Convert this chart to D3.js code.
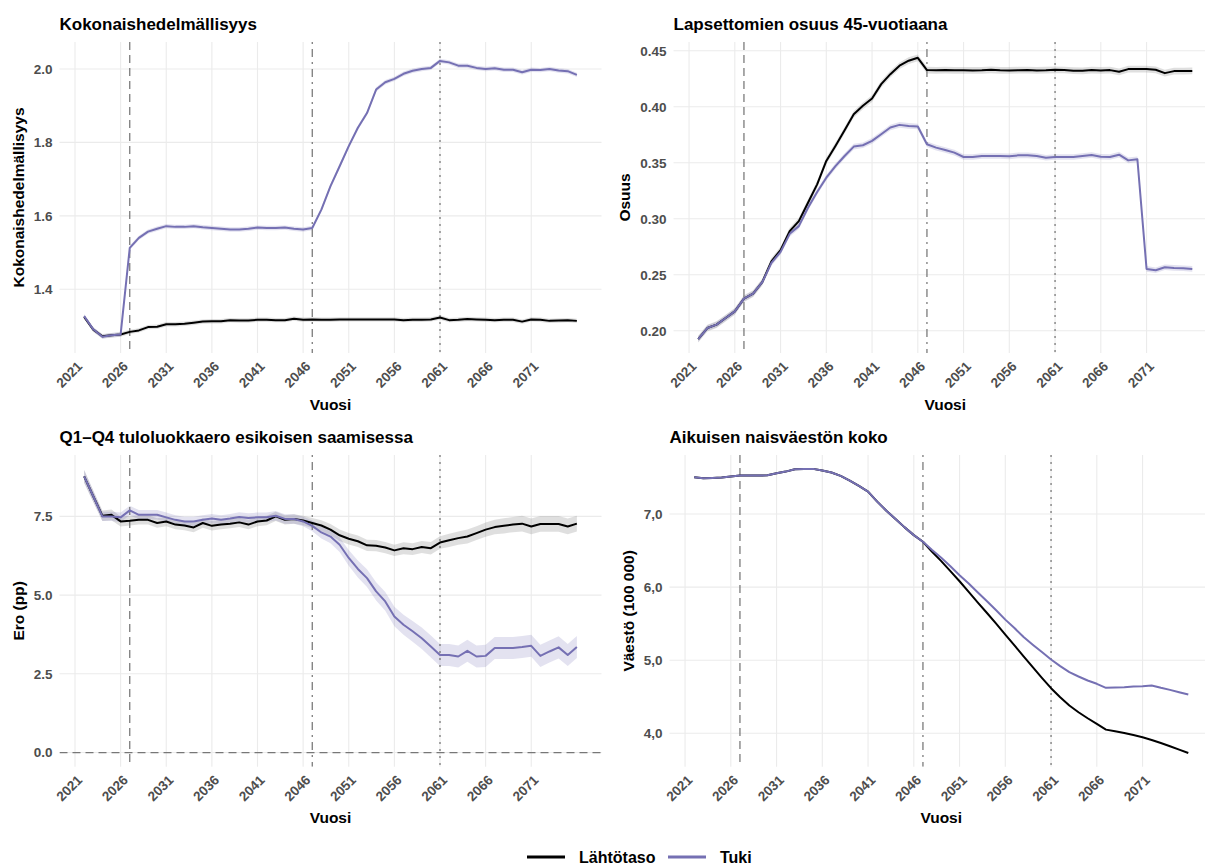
<!DOCTYPE html>
<html><head><meta charset="utf-8">
<script src="https://cdn.jsdelivr.net/npm/d3@7"></script>
<style>
body{margin:0;background:#fff}
svg{display:block;font-family:"Liberation Sans",Arial,Helvetica,sans-serif}
</style>
</head><body>
<svg id="chart" width="1205" height="866"></svg>
<script>
// ---------------- DATA ----------------
const years = [2022,2023,2024,2025,2026,2027,2028,2029,2030,2031,
  2032,2033,2034,2035,2036,2037,2038,2039,2040,2041,
  2042,2043,2044,2045,2046,2047,2048,2049,2050,2051,
  2052,2053,2054,2055,2056,2057,2058,2059,2060,2061,
  2062,2063,2064,2065,2066,2067,2068,2069,2070,2071,
  2072,2073,2074,2075,2076];
const xTickValues = [2021,2026,2031,2036,2041,2046,2051,2056,2061,2066,2071];
const seriesNames = ["Lähtötaso","Tuki"];
const refYears = [2027,2047,2061];
const refTypes = ["dashed","dotdash","dotted"];

// Panel 1: Kokonaishedelmällisyys
const tfrBase = [1.325,1.290,1.272,1.275,1.277,1.284,1.288,1.297,1.298,1.305,
  1.305,1.306,1.309,1.312,1.313,1.313,1.316,1.315,1.315,1.317,
  1.317,1.316,1.316,1.320,1.317,1.318,1.317,1.317,1.318,1.318,
  1.318,1.318,1.318,1.318,1.318,1.316,1.317,1.317,1.318,1.323,
  1.316,1.317,1.319,1.318,1.317,1.316,1.317,1.317,1.312,1.318,
  1.317,1.314,1.315,1.316,1.314];
const tfrTuki = [1.327,1.291,1.271,1.275,1.277,1.513,1.540,1.557,1.565,1.572,
  1.570,1.570,1.572,1.569,1.567,1.565,1.563,1.563,1.565,1.568,
  1.567,1.567,1.568,1.565,1.563,1.567,1.617,1.681,1.735,1.790,
  1.840,1.880,1.944,1.964,1.973,1.987,1.995,2.000,2.003,2.022,
  2.018,2.009,2.009,2.003,2.000,2.002,1.998,1.998,1.991,1.998,
  1.997,2.000,1.996,1.994,1.984];
const tfrBaseCI = 0.006;
const tfrTukiCI = 0.006;
const tfrTicks = [1.4,1.6,1.8,2.0];
const tfrTickLabels = ["1.4","1.6","1.8","2.0"];

// Panel 2: Lapsettomien osuus 45-vuotiaana
const childlessBase = [0.1925,0.2024,0.2054,0.2113,0.2173,0.2286,0.2331,0.2433,0.2620,0.2719,
  0.2889,0.2979,0.3143,0.3307,0.3516,0.3650,0.3790,0.3933,0.4008,0.4073,
  0.4202,0.4291,0.4366,0.4411,0.4437,0.4327,0.4325,0.4327,0.4325,0.4325,
  0.4324,0.4325,0.4330,0.4325,0.4324,0.4326,0.4327,0.4324,0.4326,0.4330,
  0.4328,0.4322,0.4321,0.4327,0.4324,0.4327,0.4312,0.4336,0.4336,0.4336,
  0.4330,0.4300,0.4318,0.4318,0.4320];
const childlessTuki = [0.1925,0.2024,0.2054,0.2113,0.2173,0.2286,0.2331,0.2433,0.2606,0.2704,
  0.2865,0.2934,0.3098,0.3238,0.3366,0.3470,0.3560,0.3644,0.3656,0.3695,
  0.3754,0.3814,0.3838,0.3829,0.3823,0.3665,0.3635,0.3614,0.3590,0.3551,
  0.3551,0.3560,0.3560,0.3560,0.3557,0.3566,0.3566,0.3560,0.3545,0.3551,
  0.3551,0.3551,0.3560,0.3569,0.3554,0.3551,0.3572,0.3521,0.3530,0.2552,
  0.2540,0.2567,0.2561,0.2558,0.2552];
const childlessBaseCI = 0.003;
const childlessTukiCI = 0.0025;
const childlessTicks = [0.20,0.25,0.30,0.35,0.40,0.45];
const childlessTickLabels = ["0.20","0.25","0.30","0.35","0.40","0.45"];

// Panel 3: Q1–Q4 tuloluokkaero esikoisen saamisessa
const gapBase = [8.77,8.14,7.52,7.55,7.34,7.36,7.39,7.39,7.29,7.34,
  7.24,7.21,7.15,7.29,7.20,7.24,7.27,7.31,7.24,7.34,
  7.37,7.50,7.39,7.42,7.37,7.29,7.21,7.08,6.90,6.79,
  6.71,6.58,6.57,6.51,6.42,6.49,6.46,6.53,6.49,6.67,
  6.74,6.81,6.86,6.97,7.08,7.16,7.20,7.24,7.27,7.18,
  7.26,7.26,7.26,7.18,7.27];
const gapTuki = [8.77,8.14,7.50,7.50,7.47,7.69,7.55,7.55,7.55,7.47,
  7.39,7.34,7.34,7.39,7.43,7.39,7.43,7.48,7.45,7.47,
  7.47,7.52,7.42,7.42,7.34,7.20,6.99,6.86,6.60,6.18,
  5.83,5.54,5.12,4.80,4.32,4.06,3.85,3.63,3.37,3.10,
  3.10,3.05,3.23,3.05,3.07,3.32,3.32,3.32,3.35,3.39,
  3.07,3.21,3.34,3.10,3.35];
const gapBaseCI = [0.20,0.18,0.17,0.17,0.16,0.15,0.15,0.15,0.15,0.15,
  0.15,0.15,0.15,0.15,0.15,0.15,0.15,0.15,0.15,0.15,
  0.15,0.15,0.15,0.15,0.15,0.16,0.17,0.18,0.18,0.18,
  0.18,0.18,0.18,0.18,0.18,0.19,0.19,0.19,0.20,0.20,
  0.21,0.21,0.22,0.22,0.23,0.23,0.24,0.24,0.25,0.25,
  0.25,0.25,0.25,0.25,0.25];
const gapTukiCI = [0.20,0.18,0.15,0.15,0.15,0.15,0.15,0.15,0.15,0.15,
  0.15,0.15,0.15,0.15,0.15,0.15,0.15,0.15,0.15,0.15,
  0.15,0.15,0.15,0.15,0.15,0.17,0.19,0.21,0.23,0.25,
  0.27,0.28,0.29,0.30,0.31,0.32,0.33,0.34,0.35,0.35,
  0.35,0.35,0.35,0.35,0.35,0.35,0.35,0.35,0.35,0.35,
  0.35,0.35,0.35,0.35,0.35];
const gapTicks = [0.0,2.5,5.0,7.5];
const gapTickLabels = ["0.0","2.5","5.0","7.5"];

// Panel 4: Aikuisen naisväestön koko (100 000)
const popBase = [7.503,7.489,7.494,7.498,7.512,7.525,7.525,7.525,7.530,7.557,
  7.580,7.612,7.617,7.617,7.594,7.567,7.521,7.457,7.384,7.306,
  7.169,7.045,6.930,6.817,6.711,6.620,6.483,6.355,6.218,6.080,
  5.934,5.788,5.646,5.500,5.349,5.203,5.052,4.905,4.759,4.617,
  4.494,4.380,4.288,4.206,4.128,4.050,4.027,4.005,3.977,3.945,
  3.909,3.867,3.822,3.776,3.730];
const popTuki = [7.503,7.489,7.494,7.498,7.512,7.525,7.525,7.525,7.530,7.557,
  7.580,7.612,7.617,7.617,7.594,7.567,7.521,7.457,7.384,7.306,
  7.169,7.045,6.930,6.817,6.711,6.620,6.506,6.400,6.286,6.163,
  6.048,5.925,5.806,5.683,5.555,5.440,5.317,5.212,5.111,5.010,
  4.919,4.837,4.777,4.722,4.677,4.622,4.626,4.631,4.640,4.645,
  4.654,4.622,4.594,4.562,4.530];
const popTicks = [4,5,6,7];
const popTickLabels = ["4,0","5,0","6,0","7,0"];

// ---------------- STYLE / LAYOUT ----------------
const colors = {base:"#000000", tuki:"#7570b3"};
const ribbonFill = {base:"#7f7f7f", tuki:"#7570b3"};
const dashes = {dashed:"8,5", dotdash:"2,5,8,5", dotted:"2,5"};

const svg = d3.select("#chart");

const panels = [
  {title:"Kokonaishedelmällisyys", ylab:"Kokonaishedelmällisyys",
   left:59.5, right:601.5, top:42, bottom:353, yDomain:[1.2265,2.0735],
   base:tfrBase, tuki:tfrTuki, baseCI:years.map(()=>tfrBaseCI), tukiCI:years.map(()=>tfrTukiCI),
   ticks:tfrTicks, tickLabels:tfrTickLabels, ylabX:18, titleY:30, xlabY:410, zero:false},
  {title:"Lapsettomien osuus 45-vuotiaana", ylab:"Osuus",
   left:673.5, right:1217, top:42, bottom:353, yDomain:[0.1801,0.4578],
   base:childlessBase, tuki:childlessTuki, baseCI:years.map(()=>childlessBaseCI), tukiCI:years.map(()=>childlessTukiCI),
   ticks:childlessTicks, tickLabels:childlessTickLabels, ylabX:624, titleY:30, xlabY:410, zero:false},
  {title:"Q1–Q4 tuloluokkaero esikoisen saamisessa", ylab:"Ero (pp)",
   left:59.5, right:601.5, top:455, bottom:766.7, yDomain:[-0.45,9.45],
   base:gapBase, tuki:gapTuki, baseCI:gapBaseCI, tukiCI:gapTukiCI,
   ticks:gapTicks, tickLabels:gapTickLabels, ylabX:18, titleY:443, xlabY:823, zero:true},
  {title:"Aikuisen naisväestön koko", ylab:"Väestö (100 000)",
   left:669.5, right:1213, top:455, bottom:766.7, yDomain:[3.543,7.807],
   base:popBase, tuki:popTuki, baseCI:null, tukiCI:null,
   ticks:popTicks, tickLabels:popTickLabels, ylabX:628, titleY:443, xlabY:823, zero:false}
];

panels.forEach((p,pi)=>{
  const x = d3.scaleLinear().domain([years[0]-2.7, years[years.length-1]+2.7]).range([p.left,p.right]);
  const y = d3.scaleLinear().domain(p.yDomain).range([p.bottom,p.top]);
  const g = svg.append("g");
  const clipId = "clip"+pi;
  g.append("clipPath").attr("id",clipId).append("rect")
    .attr("x",p.left).attr("y",p.top).attr("width",p.right-p.left).attr("height",p.bottom-p.top);

  // grid
  const grid = g.append("g").attr("stroke","#ebebeb").attr("stroke-width",1.1);
  grid.selectAll("line.gx").data(xTickValues).join("line")
    .attr("x1",d=>x(d)).attr("x2",d=>x(d)).attr("y1",p.top).attr("y2",p.bottom);
  grid.selectAll("line.gy").data(p.ticks).join("line")
    .attr("x1",p.left).attr("x2",p.right).attr("y1",d=>y(d)).attr("y2",d=>y(d));

  const plot = g.append("g").attr("clip-path",`url(#${clipId})`);

  const rows = years.map((yr,i)=>({yr, b:p.base[i], t:p.tuki[i],
      bci: p.baseCI ? p.baseCI[i] : 0, tci: p.tukiCI ? p.tukiCI[i] : 0}));
  if (p.baseCI) {
    plot.append("path").datum(rows)
      .attr("fill",ribbonFill.base).attr("fill-opacity",0.25)
      .attr("d", d3.area().x(d=>x(d.yr)).y0(d=>y(d.b-d.bci)).y1(d=>y(d.b+d.bci)));
    plot.append("path").datum(rows)
      .attr("fill",ribbonFill.tuki).attr("fill-opacity",0.2)
      .attr("d", d3.area().x(d=>x(d.yr)).y0(d=>y(d.t-d.tci)).y1(d=>y(d.t+d.tci)));
  }

  if (p.zero) {
    plot.append("line").attr("x1",p.left).attr("x2",p.right).attr("y1",y(0)).attr("y2",y(0))
      .attr("stroke","#777").attr("stroke-width",1.2).attr("stroke-dasharray",dashes.dashed);
  }

  plot.selectAll("line.ref").data(refYears).join("line")
    .attr("x1",d=>x(d)).attr("x2",d=>x(d)).attr("y1",p.top).attr("y2",p.bottom)
    .attr("stroke","#707070").attr("stroke-width",1.2)
    .attr("stroke-dasharray",(d,i)=>dashes[refTypes[i]]);

  const line = key => d3.line().x(d=>x(d.yr)).y(d=>y(d[key]));
  plot.append("path").datum(rows).attr("fill","none").attr("stroke",colors.base)
    .attr("stroke-width",2).attr("stroke-linejoin","round").attr("d",line("b"));
  plot.append("path").datum(rows).attr("fill","none").attr("stroke",colors.tuki)
    .attr("stroke-width",2).attr("stroke-linejoin","round").attr("d",line("t"));

  g.selectAll("text.yt").data(p.ticks).join("text")
    .attr("x",p.left-7).attr("y",d=>y(d)).attr("dy","0.36em")
    .attr("text-anchor","end").attr("font-size",13.5).attr("font-weight","bold")
    .attr("fill","#4d4d4d").text((d,i)=>p.tickLabels[i]);

  g.selectAll("text.xt").data(xTickValues).join("text")
    .attr("transform",d=>`translate(${x(d)+1},${p.bottom+7}) rotate(-45)`)
    .attr("dy","0.75em").attr("text-anchor","end")
    .attr("font-size",13.5).attr("font-weight","bold").attr("fill","#4d4d4d")
    .text(d=>d);

  g.append("text").attr("x",p.left).attr("y",p.titleY)
    .attr("font-size",17).attr("font-weight","bold").attr("fill","#000").text(p.title);
  g.append("text").attr("x",(p.left+p.right)/2).attr("y",p.xlabY)
    .attr("text-anchor","middle").attr("font-size",15.5).attr("font-weight","bold").text("Vuosi");
  g.append("text").attr("transform",`translate(${p.ylabX},${(p.top+p.bottom)/2}) rotate(-90)`)
    .attr("dy","0.36em").attr("text-anchor","middle").attr("font-size",15.5).attr("font-weight","bold")
    .text(p.ylab);
});

// legend
const legendItems = [
  {name:seriesNames[0], color:colors.base, x:527},
  {name:seriesNames[1], color:colors.tuki, x:668}
];
const lg = svg.append("g");
legendItems.forEach(it=>{
  lg.append("line").attr("x1",it.x).attr("x2",it.x+38).attr("y1",857).attr("y2",857)
    .attr("stroke",it.color).attr("stroke-width",3);
  lg.append("text").attr("x",it.x+52).attr("y",857).attr("dy","0.36em")
    .attr("font-size",16).attr("font-weight","bold").text(it.name);
});
</script>
</body></html>
